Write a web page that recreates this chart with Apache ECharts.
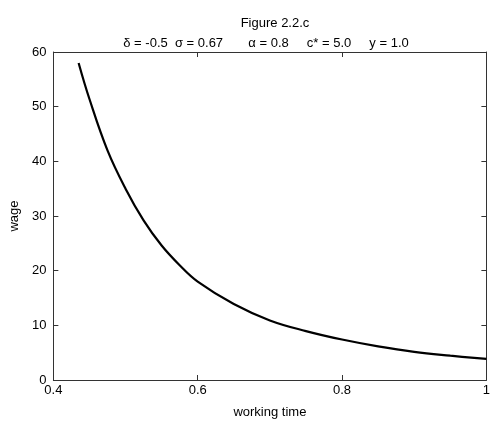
<!DOCTYPE html>
<html>
<head>
<meta charset="utf-8">
<script src="https://cdn.jsdelivr.net/npm/echarts@6/dist/echarts.min.js"></script>
<style>
    html, body { margin: 0; padding: 0; background: #fff; }
    #chart { width: 493px; height: 424px; }
</style>
</head>
<body>
<div id="chart"></div>
<script>
    // values
    const workingTime = [0.435, 0.45, 0.475, 0.5, 0.525, 0.55, 0.575, 0.6, 0.65, 0.7, 0.75, 0.8, 0.85, 0.9, 0.95, 1.0];
    const wage = [58.0, 51.4, 42.0, 35.0, 29.2, 24.6, 21.0, 18.0, 13.9, 10.9, 8.95, 7.4, 6.15, 5.15, 4.45, 3.85];
    const titleLines = ['Figure 2.2.c', 'δ = -0.5  σ = 0.67       α = 0.8     c* = 5.0     y = 1.0'];

    const axisColor = '#333';
    const font = 'Liberation Sans, Arial, sans-serif';

    let myChart = echarts.init(document.getElementById('chart'));

    let points = workingTime.map((t, i) => [t, wage[i]]);

    let frameAxis = {
        axisLine: { show: true, onZero: false, lineStyle: { color: axisColor, width: 1 } },
        axisTick: { show: true, inside: true, length: 5, lineStyle: { color: axisColor } },
        axisLabel: { show: false },
        splitLine: { show: false }
    };

    let option = {
        animation: false,
        backgroundColor: '#fff',
        title: [
            {
                text: titleLines[0],
                left: 270, top: 12, textAlign: 'center',
                textStyle: { fontFamily: font, fontSize: 13, fontWeight: 'normal', color: '#000' }
            },
            {
                text: titleLines[1],
                left: 261, top: 32, textAlign: 'center',
                textStyle: { fontFamily: font, fontSize: 13, fontWeight: 'normal', color: '#000' }
            }
        ],
        grid: {
            left: 53,
            right: 5,
            top: 52,
            bottom: 40,
            containLabel: false
        },
        xAxis: [
            {
                type: 'value',
                min: 0.4,
                max: 1,
                interval: 0.2,
                name: 'working time',
                nameLocation: 'middle',
                nameGap: 26,
                nameTextStyle: { fontFamily: font, fontSize: 13, color: '#000' },
                axisLine: { show: true, onZero: false, lineStyle: { color: axisColor, width: 1 } },
                axisTick: { show: true, inside: true, length: 5, lineStyle: { color: axisColor } },
                axisLabel: { fontFamily: font, fontSize: 13, color: '#000', margin: 4 },
                splitLine: { show: false }
            },
            Object.assign({ type: 'value', position: 'top', min: 0.4, max: 1, interval: 0.2 }, frameAxis)
        ],
        yAxis: [
            {
                type: 'value',
                min: 0,
                max: 60,
                interval: 10,
                name: 'wage',
                nameLocation: 'middle',
                nameGap: 27,
                nameTextStyle: { fontFamily: font, fontSize: 13, color: '#000' },
                axisLine: { show: true, onZero: false, lineStyle: { color: axisColor, width: 1 } },
                axisTick: { show: true, inside: true, length: 5, lineStyle: { color: axisColor } },
                axisLabel: { fontFamily: font, fontSize: 13, color: '#000', margin: 7 },
                splitLine: { show: false }
            },
            Object.assign({ type: 'value', position: 'right', min: 0, max: 60, interval: 10 }, frameAxis)
        ],
        series: [
            {
                type: 'line',
                data: points,
                smooth: 0.4,
                showSymbol: false,
                lineStyle: { color: '#000', width: 2.2 }
            }
        ]
    };
    myChart.setOption(option);
</script>
</body>
</html>
